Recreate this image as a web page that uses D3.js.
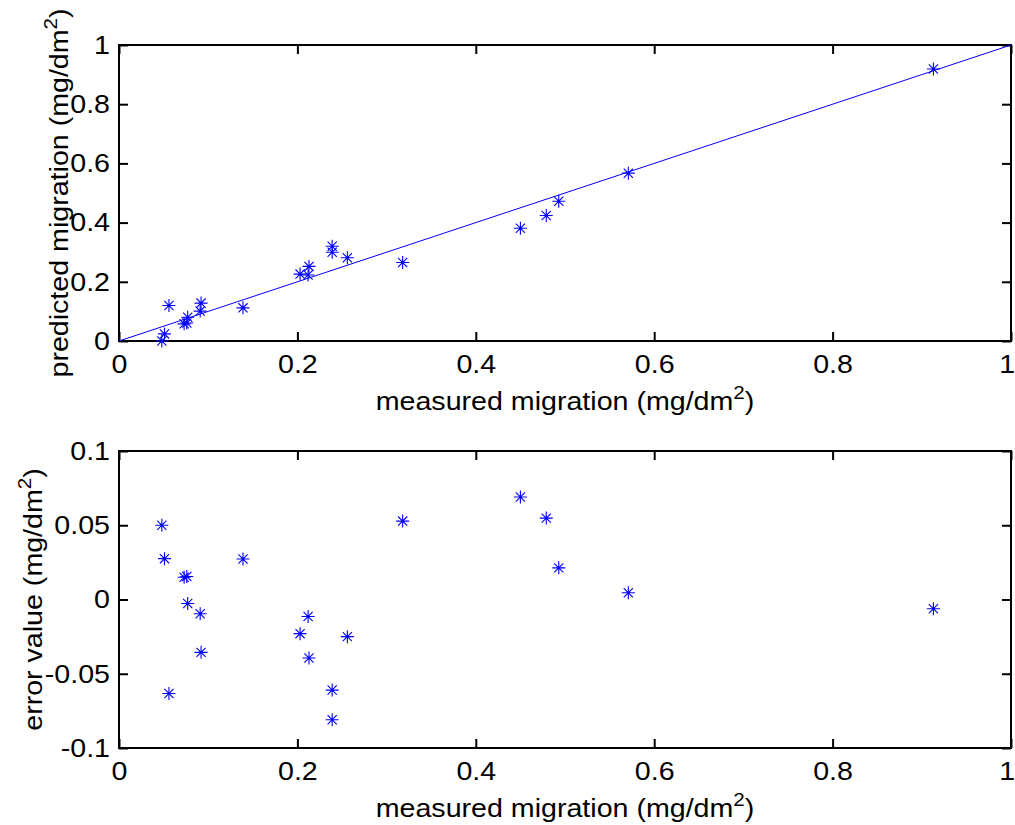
<!DOCTYPE html>
<html>
<head>
<meta charset="utf-8">
<script src="https://cdn.jsdelivr.net/npm/d3@7/dist/d3.min.js"></script>
<style>
  body { margin: 0; background: #fff; }
  svg { display: block; font-family: "Liberation Sans", Arial, sans-serif; }
</style>
</head>
<body>
<svg id="fig" width="1015" height="825"></svg>
<script>
// measured migration (x)
const MEASURED = [0.048, 0.051, 0.073, 0.076, 0.077, 0.091, 0.092, 0.056, 0.139, 0.203, 0.212,
                  0.213, 0.256, 0.239, 0.239, 0.318, 0.450, 0.479, 0.493, 0.571, 0.913];
// predicted migration
const PREDICTED = [0.000, 0.024, 0.058, 0.061, 0.080, 0.101, 0.128, 0.120, 0.112, 0.226, 0.223,
                   0.252, 0.281, 0.300, 0.320, 0.265, 0.381, 0.424, 0.472, 0.567, 0.919];
// error value
const ERROR = [0.050, 0.0275, 0.015, 0.0155, -0.0027, -0.0096, -0.0356, -0.0633, 0.0273, -0.023, -0.0114,
               -0.0394, -0.025, -0.061, -0.081, 0.0528, 0.069, 0.0548, 0.0213, 0.0045, -0.0062];

// reference line y = x
const IDEAL_LINE = [[0, 0], [1, 1]];

const X_TICKS = [0, 0.2, 0.4, 0.6, 0.8, 1];
const X_TICK_LABELS = ["0", "0.2", "0.4", "0.6", "0.8", "1"];
const Y1_TICKS = [0, 0.2, 0.4, 0.6, 0.8, 1];
const Y1_TICK_LABELS = ["0", "0.2", "0.4", "0.6", "0.8", "1"];
const Y2_TICKS = [-0.1, -0.05, 0, 0.05, 0.1];
const Y2_TICK_LABELS = ["-0.1", "-0.05", "0", "0.05", "0.1"];

const BLUE = "#0000ff";
const FONT = 26;
const STRETCH = 1.1;   // matlab text is a bit wider than liberation sans
const TICK = 9;

const svg = d3.select("#fig");
svg.append("rect").attr("width", 1015).attr("height", 825).attr("fill", "#fff");

const left = 119, right = 1011;

function labelText(sel, before, sup, after) {
  sel.append("tspan").text(before);
  sel.append("tspan").attr("dy", -11).attr("font-size", FONT * 0.72).text(sup);
  sel.append("tspan").attr("dy", 11).text(after);
}

function starPath(cx, cy) {
  const a = 6.5, b = 4.6;
  return `M${cx - a},${cy}L${cx + a},${cy}M${cx},${cy - a}L${cx},${cy + a}` +
         `M${cx - b},${cy - b}L${cx + b},${cy + b}M${cx - b},${cy + b}L${cx + b},${cy - b}`;
}

function drawPanel(opts) {
  const x = d3.scaleLinear().domain([0, 1]).range([left, right]);
  const y = d3.scaleLinear().domain(opts.yDomain).range([opts.bottom, opts.top]);
  const g = svg.append("g");

  // axes, ticks pointing inwards on all four sides
  const xb = g.append("g").attr("transform", `translate(0,${opts.bottom})`)
    .call(d3.axisBottom(x).tickValues(X_TICKS).tickFormat((d, i) => X_TICK_LABELS[i])
      .tickSize(-TICK).tickSizeOuter(0).tickPadding(14));
  g.append("g").attr("transform", `translate(0,${opts.top})`)
    .call(d3.axisTop(x).tickValues(X_TICKS).tickFormat("").tickSize(-TICK).tickSizeOuter(0));
  const yl = g.append("g").attr("transform", `translate(${left},0)`)
    .call(d3.axisLeft(y).tickValues(opts.yTicks).tickFormat((d, i) => opts.yLabels[i])
      .tickSize(-TICK).tickSizeOuter(0).tickPadding(9));
  g.append("g").attr("transform", `translate(${right},0)`)
    .call(d3.axisRight(y).tickValues(opts.yTicks).tickFormat("").tickSize(-TICK).tickSizeOuter(0));

  g.selectAll(".domain").remove();
  g.selectAll(".tick line").attr("stroke", "#000").attr("stroke-width", 2);
  g.selectAll(".tick text").attr("fill", "#000").attr("font-size", FONT)
    .attr("font-family", "'Liberation Sans', Arial, sans-serif");
  // last label "1" sits on the figure edge; nudge it in so it is not clipped
  xb.selectAll(".tick text")
    .attr("x", (d) => d == 1 ? -4 : 0)
    .attr("transform", `scale(${STRETCH},1)`);
  yl.selectAll(".tick text").attr("x", -9 / STRETCH).attr("transform", `scale(${STRETCH},1)`);

  g.append("rect")
    .attr("x", left).attr("y", opts.top)
    .attr("width", right - left).attr("height", opts.bottom - opts.top)
    .attr("fill", "none").attr("stroke", "#000").attr("stroke-width", 2);

  if (opts.line) {
    g.append("path")
      .attr("d", d3.line().x(d => x(d[0])).y(d => y(d[1]))(opts.line))
      .attr("fill", "none").attr("stroke", BLUE).attr("stroke-width", 1);
  }

  g.append("g").selectAll("path")
    .data(opts.xs)
    .enter()
    .append("path")
    .attr("d", (d, i) => starPath(x(d), y(opts.ys[i])))
    .attr("fill", "none").attr("stroke", BLUE).attr("stroke-width", 1.1);

  // axis titles
  const xt = g.append("text")
    .attr("transform", `translate(${(left + right) / 2},${opts.bottom + 69}) scale(${STRETCH},1)`)
    .attr("text-anchor", "middle").attr("font-size", FONT);
  labelText(xt, "measured migration (mg/dm", "2", ")");

  const yt = g.append("text")
    .attr("transform", `translate(${opts.yTitleX},${(opts.top + opts.bottom) / 2}) rotate(-90) scale(${STRETCH},1)`)
    .attr("text-anchor", "middle").attr("font-size", FONT);
  labelText(yt, opts.yTitle + " (mg/dm", "2", ")");
}

drawPanel({
  top: 45, bottom: 341,
  yDomain: [0, 1], yTicks: Y1_TICKS, yLabels: Y1_TICK_LABELS,
  xs: MEASURED, ys: PREDICTED, line: IDEAL_LINE,
  yTitle: "predicted migration", yTitleX: 68
});

drawPanel({
  top: 451, bottom: 748,
  yDomain: [-0.1, 0.1], yTicks: Y2_TICKS, yLabels: Y2_TICK_LABELS,
  xs: MEASURED, ys: ERROR, line: null,
  yTitle: "error value", yTitleX: 42
});
</script>
</body>
</html>
